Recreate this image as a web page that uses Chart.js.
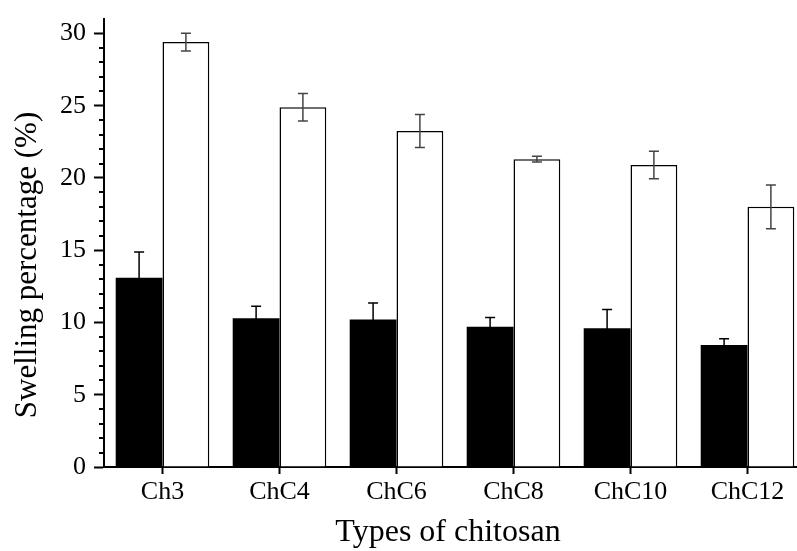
<!DOCTYPE html>
<html>
<head>
<meta charset="utf-8">
<script src="https://cdn.jsdelivr.net/npm/chart.js@4.4.1/dist/chart.umd.min.js"></script>
<style>
  html, body { margin: 0; padding: 0; background: #fff; overflow: hidden; }
  #wrap { width: 810px; height: 551px; }
</style>
</head>
<body>
<div id="wrap"><canvas id="chart" width="810" height="551"></canvas></div>
<script>
// chitosan types on the x axis
const categories = ['Ch3', 'ChC4', 'ChC6', 'ChC8', 'ChC10', 'ChC12'];

// black bars and their error
const blackValues = [13.1, 10.3, 10.2, 9.7, 9.6, 8.45];
const blackErrors = [1.78, 0.83, 1.15, 0.65, 1.29, 0.42];

// white bars and their error
const whiteValues = [29.4, 24.9, 23.25, 21.3, 20.9, 18.0];
const whiteErrors = [0.62, 0.95, 1.15, 0.2, 0.95, 1.52];

const yMin = 0;
const yMax = 31;
const yTickValues = [0, 5, 10, 15, 20, 25, 30];

const xTitle = 'Types of chitosan';
const yTitle = 'Swelling percentage (%)';

const serif = '"Liberation Serif", "Times New Roman", serif';
Chart.defaults.font.family = serif;
Chart.defaults.color = '#000';

// error bars, drawn with the y scale
const errorBars = {
    id: 'errorBars',
    afterDatasetsDraw(chart) {
        const ctx = chart.ctx;
        const y = chart.scales.y;
        chart.data.datasets.forEach((ds, i) => {
            const meta = chart.getDatasetMeta(i);
            meta.data.forEach((bar, j) => {
                const v = ds.data[j];
                const e = ds.errors[j];
                const top = y.getPixelForValue(v + e);
                const bot = y.getPixelForValue(v - e);
                ctx.save();
                ctx.strokeStyle = ds.errorColor;
                ctx.lineWidth = 1.5;
                ctx.beginPath();
                ctx.moveTo(bar.x, top);
                ctx.lineTo(bar.x, bot);
                ctx.moveTo(bar.x - 5, top);
                ctx.lineTo(bar.x + 5, top);
                ctx.moveTo(bar.x - 5, bot);
                ctx.lineTo(bar.x + 5, bot);
                ctx.stroke();
                ctx.restore();
            });
        });
    }
};

// short minor ticks at every unit on the y axis, plus the two axis titles
const extras = {
    id: 'extras',
    afterDraw(chart) {
        const ctx = chart.ctx;
        const y = chart.scales.y;
        const x0 = chart.chartArea.left;
        ctx.save();
        ctx.strokeStyle = '#000';
        ctx.lineWidth = 2;
        ctx.beginPath();
        for (let v = yMin + 1; v < yMax; v++) {
            if (yTickValues.includes(v)) continue;
            const py = Math.round(y.getPixelForValue(v));
            ctx.moveTo(x0 - 5, py);
            ctx.lineTo(x0, py);
        }
        ctx.stroke();

        ctx.fillStyle = '#000';
        ctx.textAlign = 'center';
        ctx.textBaseline = 'middle';
        ctx.font = '32px ' + serif;
        ctx.fillText(xTitle, 448, 533);

        ctx.translate(28, 265);
        ctx.rotate(-Math.PI / 2);
        ctx.font = '31px ' + serif;
        ctx.fillText(yTitle, 0, 0);
        ctx.restore();
    }
};

new Chart(document.getElementById('chart'), {
    type: 'bar',
    data: {
        labels: categories,
        datasets: [
            {
                data: blackValues,
                errors: blackErrors,
                errorColor: '#000',
                backgroundColor: '#000',
                borderWidth: 0,
            },
            {
                data: whiteValues,
                errors: whiteErrors,
                errorColor: '#444',
                backgroundColor: '#fff',
                borderColor: '#000',
                borderWidth: 1.5,
            },
        ],
    },
    options: {
        responsive: false,
        animation: false,
        layout: { padding: { top: 19, right: 4, left: 0, bottom: 0 } },
        plugins: {
            legend: { display: false },
            tooltip: { enabled: false },
        },
        datasets: {
            bar: { barPercentage: 1, categoryPercentage: 0.8 },
        },
        scales: {
            x: {
                afterFit: (axis) => {
                    axis.height = 84;
                    axis.paddingLeft = 0;
                    axis.paddingRight = 0;
                },
                grid: {
                    drawOnChartArea: false,
                    offset: false,
                    tickLength: 7,
                    tickWidth: 2,
                    tickColor: '#000',
                },
                border: { color: '#000', width: 2 },
                ticks: { font: { size: 26 }, padding: 3, maxRotation: 0 },
            },
            y: {
                min: yMin,
                max: yMax,
                afterFit: (axis) => {
                    axis.width = 104;
                    axis.paddingTop = 0;
                    axis.paddingBottom = 0;
                },
                afterBuildTicks: (axis) => {
                    axis.ticks = yTickValues.map(v => ({ value: v }));
                },
                grid: {
                    drawOnChartArea: false,
                    tickLength: 10,
                    tickWidth: 2,
                    tickColor: '#000',
                },
                border: { color: '#000', width: 2 },
                ticks: { font: { size: 26 }, padding: 8 },
            },
        },
    },
    plugins: [errorBars, extras],
});
</script>
</body>
</html>
